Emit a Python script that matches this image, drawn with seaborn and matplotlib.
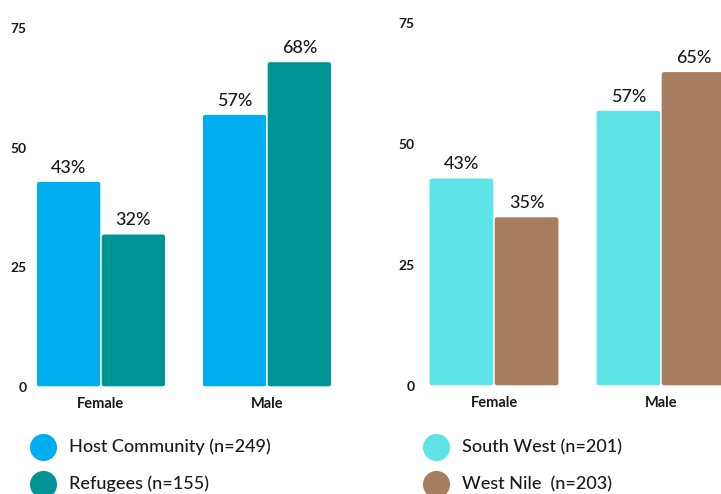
import matplotlib
matplotlib.use("Agg")
import matplotlib.pyplot as plt
from matplotlib.patches import FancyBboxPatch
from matplotlib.lines import Line2D
import seaborn as sns
import pandas as pd

# ---- data ----
categories = ["Female", "Male"]
host_community = [43, 57]
refugees = [32, 68]
south_west = [43, 57]
west_nile = [35, 65]
yticks = [0, 25, 50, 75]
left_series = ["Host Community (n=249)", "Refugees (n=155)"]
right_series = ["South West (n=201)", "West Nile  (n=203)"]
left_colors = ["#00AEEF", "#009394"]
right_colors = ["#5EE3E7", "#A67D5E"]

sns.set_theme(style="white")
plt.rcParams["font.family"] = ["Lato", "DejaVu Sans"]

W, H = 721, 494
fig = plt.figure(figsize=(W / 100, H / 100), dpi=100)
fig.patch.set_facecolor("white")
TXT = "#1a1a1a"


def px_axes(left, right, top, bottom):
    return fig.add_axes([left / W, 1 - bottom / H, (right - left) / W, (bottom - top) / H])


def make_df(s1, v1, s2, v2):
    rows = []
    for c, a in zip(categories, v1):
        rows.append({"cat": c, "group": s1, "val": a})
    for c, a in zip(categories, v2):
        rows.append({"cat": c, "group": s2, "val": a})
    return pd.DataFrame(rows)


def round_bars(ax, rx_px=3.0):
    fig.canvas.draw()
    bb = ax.get_window_extent()
    x0, x1 = ax.get_xlim()
    y0, y1 = ax.get_ylim()
    ppx = bb.width / (x1 - x0)
    ppy = bb.height / (y1 - y0)
    r = rx_px / ppx
    for p in list(ax.patches):
        x, y = p.get_x(), p.get_y()
        w, h = p.get_width(), p.get_height()
        fc = p.get_facecolor()
        p.set_visible(False)
        fb = FancyBboxPatch((x, y), w, h,
                            boxstyle=f"round,pad=0,rounding_size={r}",
                            mutation_aspect=ppx / ppy,
                            facecolor=fc, edgecolor="white", linewidth=1.0,
                            zorder=2)
        ax.add_patch(fb)


def style(ax, pad):
    ax.set_ylim(0, 75)
    ax.set_yticks(yticks)
    ax.set_yticklabels([str(t) for t in yticks], fontweight="bold", fontsize=10, color=TXT)
    for lab in ax.get_xticklabels():
        lab.set_fontweight("bold")
        lab.set_fontsize(10.5)
        lab.set_color(TXT)
    ax.tick_params(axis="y", length=0, pad=pad)
    ax.tick_params(axis="x", length=0, pad=7)
    ax.set_xlabel("")
    ax.set_ylabel("")
    for s in ax.spines.values():
        s.set_visible(False)
    ax.set_facecolor("none")


# left panel
axL = px_axes(32, 345, 28, 387)
dfL = make_df(left_series[0], host_community, left_series[1], refugees)
sns.barplot(data=dfL, x="cat", y="val", hue="group", palette=left_colors,
            width=0.78, ax=axL, legend=False, saturation=1, edgecolor="white", linewidth=1)
axL.set_xlim((32 - 101) / 166, (345 - 101) / 166)
for cont in axL.containers:
    axL.bar_label(cont, fmt="%d%%", padding=4, fontsize=13, fontweight="medium", color=TXT)
style(axL, 4)

# right panel
axR = px_axes(424, 721, 23, 386)
dfR = make_df(right_series[0], south_west, right_series[1], west_nile)
sns.barplot(data=dfR, x="cat", y="val", hue="group", palette=right_colors,
            width=0.78, ax=axR, legend=False, saturation=1, edgecolor="white", linewidth=1)
axR.set_xlim((424 - 494) / 167, (721 - 494) / 167)
for cont in axR.containers:
    axR.bar_label(cont, fmt="%d%%", padding=4, fontsize=13, fontweight="medium",
                  color=TXT, clip_on=False)
style(axR, 7)

round_bars(axL)
round_bars(axR)


def legend_item(xc, yc, color, text, xt):
    fig.add_artist(Line2D([xc / W], [1 - yc / H], marker="o", markersize=18.5,
                          markerfacecolor=color, markeredgecolor=color,
                          linestyle="none", transform=fig.transFigure))
    fig.text(xt / W, 1 - yc / H, text, fontsize=13, fontweight="medium", color=TXT,
             va="center", ha="left")

legend_item(43, 447, left_colors[0], left_series[0], 69)
legend_item(43, 484, left_colors[1], left_series[1], 69)
legend_item(436, 447, right_colors[0], right_series[0], 462)
legend_item(436, 484, right_colors[1], right_series[1], 462)

fig.savefig("out.png", dpi=100, facecolor="white")
